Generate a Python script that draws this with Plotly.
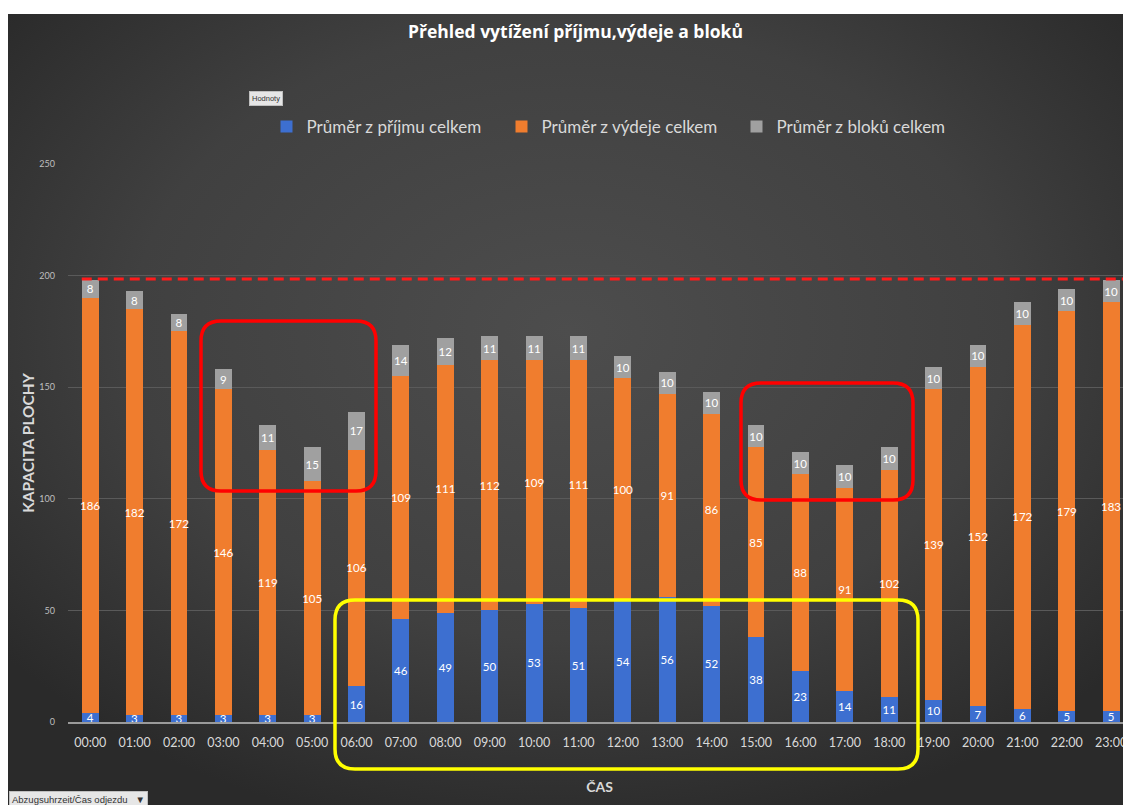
import base64
import plotly.graph_objects as go

# ---- data ----
hours = [f"{h:02d}:00" for h in range(24)]
prijem = [4, 3, 3, 3, 3, 3, 16, 46, 49, 50, 53, 51, 54, 56, 52, 38, 23, 14, 11, 10, 7, 6, 5, 5]
vydej = [186, 182, 172, 146, 119, 105, 106, 109, 111, 112, 109, 111, 100, 91, 86, 85, 88, 91, 102, 139, 152, 172, 179, 183]
bloky = [8, 8, 8, 9, 11, 15, 17, 14, 12, 11, 11, 11, 10, 10, 10, 10, 10, 10, 10, 10, 10, 10, 10, 10]
capacity_line = 198.5

series_names = ["Průměr z příjmu celkem", "Průměr z výdeje celkem", "Průměr z bloků celkem"]
series_colors = ["#3d6fd0", "#f07d2e", "#a0a0a0"]

OFF = 8  # page body margin
W, H = 1131 - OFF, 805 - OFF
ML, MR, MT, MB = 68 - OFF, 0, 164 - OFF, 805 - 722
PW, PH = W - ML - MR, H - MT - MB


def px(x):
    # screen pixel -> paper x
    return (x - OFF - ML) / PW


def py(y):
    # screen pixel -> paper y
    return (H - MB - (y - OFF)) / PH


def rrect(x0p, y0p, x1p, y1p, r=20):
    x0, x1 = px(x0p), px(x1p)
    yt, yb = py(y0p), py(y1p)
    rx, ry = r / PW, r / PH
    return (f"M{x0+rx},{yb} L{x1-rx},{yb} Q{x1},{yb} {x1},{yb+ry} "
            f"L{x1},{yt-ry} Q{x1},{yt} {x1-rx},{yt} L{x0+rx},{yt} "
            f"Q{x0},{yt} {x0},{yt-ry} L{x0},{yb+ry} Q{x0},{yb} {x0+rx},{yb} Z")


fig = go.Figure()
for name, vals, col in zip(series_names, [prijem, vydej, bloky], series_colors):
    fig.add_trace(go.Bar(
        x=hours, y=vals, name=name,
        marker=dict(color=col, line=dict(width=0)),
        text=[str(v) for v in vals], textposition="inside", textangle=0,
        insidetextanchor="middle", constraintext="none",
        textfont=dict(color="white", size=11.5, family="Lato"),
        cliponaxis=False,
    ))

svg = ('<svg xmlns="http://www.w3.org/2000/svg" width="1123" height="791" preserveAspectRatio="none">'
       '<defs><radialGradient id="g" cx="50%" cy="40%" r="65%">'
       '<stop offset="0%" stop-color="#4d4d4d"/><stop offset="60%" stop-color="#404040"/>'
       '<stop offset="100%" stop-color="#2a2a2a"/></radialGradient></defs>'
       '<rect width="1123" height="791" fill="url(#g)"/></svg>')
src = "data:image/svg+xml;base64," + base64.b64encode(svg.encode()).decode()

fig.update_layout(
    width=W, height=H,
    margin=dict(l=ML, r=MR, t=MT, b=MB, autoexpand=False),
    paper_bgcolor="white", plot_bgcolor="rgba(0,0,0,0)",
    barmode="stack", bargap=0.62,
    font=dict(family="Lato", color="#d9d9d9"),
    title=dict(text="<b>Přehled vytížení příjmu,výdeje a bloků</b>",
               x=(575.5 - OFF) / W, y=1 - (32 - OFF) / H, xanchor="center", yanchor="middle",
               font=dict(size=17.5, color="white", family="Open Sans")),
    legend=dict(orientation="h", x=px(619), y=py(127), xanchor="center", yanchor="middle",
                font=dict(size=17, color="#d9d9d9", family="Lato"),
                bgcolor="rgba(0,0,0,0)", traceorder="normal",
                entrywidth=190, itemwidth=30),
    showlegend=True,
    xaxis=dict(range=[-0.5, -0.5 + PW / 44.39], showgrid=False,
               showline=True, linecolor="#9a9a9a", linewidth=1.5,
               ticks="", tickfont=dict(size=12.5, color="#d9d9d9"),
               ticklabelstandoff=8, automargin=False,
               title=dict(text="<b>ČAS</b>", font=dict(size=14, color="#d9d9d9"), standoff=33)),
    yaxis=dict(range=[0, 250], dtick=50, showgrid=True, gridcolor="#5a5a5a", gridwidth=1,
               zeroline=False, showline=False, ticks="",
               tickfont=dict(size=9, color="#bfbfbf"), ticklabelstandoff=12, automargin=False,
               title=dict(text="<b>KAPACITA PLOCHY</b>", font=dict(size=15.5, color="#d9d9d9"), standoff=0)),
    images=[dict(source=src, xref="paper", yref="paper", x=px(8), y=py(14),
                 sizex=(1131 - 8) / PW, sizey=(805 - 14) / PH, xanchor="left", yanchor="top",
                 sizing="stretch", layer="below")],
)

# capacity dashed line
fig.add_shape(type="line", xref="x", yref="y", x0=-0.19, x1=23.3,
              y0=capacity_line, y1=capacity_line,
              line=dict(color="#ff1a1a", width=3, dash="10px,6px"))

# highlight boxes
fig.add_shape(type="path", xref="paper", yref="paper", path=rrect(201, 321, 376, 491),
              line=dict(color="#ff0000", width=3.5))
fig.add_shape(type="path", xref="paper", yref="paper", path=rrect(741, 383, 913, 500),
              line=dict(color="#ff0000", width=3.5))
fig.add_shape(type="path", xref="paper", yref="paper", path=rrect(335, 600, 918, 769),
              line=dict(color="#ffff00", width=3.5))

# pivot buttons
fig.add_annotation(xref="paper", yref="paper", x=px(265.5), y=py(98.5), xanchor="center",
                   yanchor="middle", text="Hodnoty",
                   showarrow=False, font=dict(size=7.5, color="#333333", family="Liberation Sans Narrow, Liberation Sans"),
                   bgcolor="#e6e6e6", bordercolor="#bfbfbf", borderwidth=1, borderpad=2)
fig.add_annotation(xref="paper", yref="paper", x=px(9), y=py(800), xanchor="left",
                   yanchor="middle", text="Abzugsuhrzeit/Čas odjezdu   ▼",
                   showarrow=False, font=dict(size=9.5, color="#333333", family="Liberation Sans Narrow, Liberation Sans"),
                   bgcolor="#e6e6e6", bordercolor="#bfbfbf", borderwidth=1, borderpad=2)

fig.write_html("out.html")
